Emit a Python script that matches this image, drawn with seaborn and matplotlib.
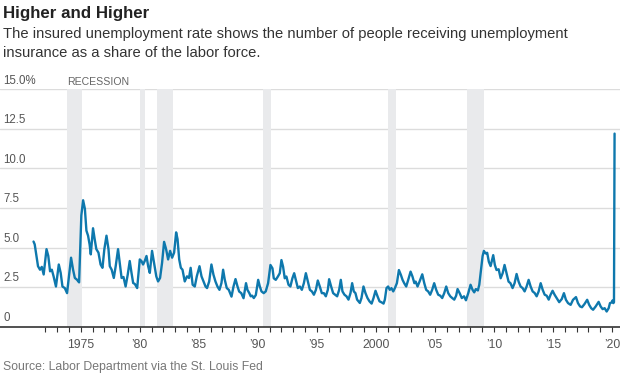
import numpy as np
import pandas as pd
import matplotlib
matplotlib.use('Agg')
import matplotlib.pyplot as plt
import matplotlib.transforms as mtransforms
import seaborn as sns

# insured unemployment rate (decimal year, percent)
dates = [
    1971.00, 1971.10, 1971.38, 1971.55, 1971.70, 1971.86, 1972.10, 1972.25, 1972.40, 1972.55,
    1972.70, 1972.90, 1973.14, 1973.30, 1973.45, 1973.65, 1973.84, 1974.00, 1974.18, 1974.35,
    1974.50, 1974.68, 1974.86, 1975.05, 1975.20, 1975.35, 1975.48, 1975.62, 1975.75, 1975.85,
    1976.04, 1976.18, 1976.32, 1976.50, 1976.68, 1976.84, 1977.00, 1977.18, 1977.35, 1977.46,
    1977.62, 1977.80, 1977.96, 1978.16, 1978.30, 1978.46, 1978.62, 1978.80, 1978.98, 1979.15,
    1979.30, 1979.44, 1979.58, 1979.78, 1980.00, 1980.14, 1980.28, 1980.42, 1980.57, 1980.71,
    1980.85, 1981.04, 1981.21, 1981.40, 1981.55, 1981.72, 1981.89, 1982.06, 1982.23, 1982.40,
    1982.57, 1982.74, 1982.91, 1983.08, 1983.20, 1983.34, 1983.48, 1983.62, 1983.81, 1984.00,
    1984.17, 1984.31, 1984.48, 1984.66, 1984.83, 1985.06, 1985.23, 1985.40, 1985.57, 1985.70,
    1985.88, 1986.07, 1986.24, 1986.41, 1986.58, 1986.75, 1986.92, 1987.06, 1987.20, 1987.37,
    1987.54, 1987.77, 1987.94, 1988.11, 1988.28, 1988.42, 1988.60, 1988.79, 1989.00, 1989.12,
    1989.28, 1989.40, 1989.52, 1989.66, 1989.83, 1990.03, 1990.17, 1990.31, 1990.50, 1990.67,
    1990.87, 1991.07, 1991.24, 1991.35, 1991.52, 1991.70, 1991.86, 1992.00, 1992.14, 1992.28,
    1992.42, 1992.60, 1992.76, 1992.93, 1993.08, 1993.22, 1993.39, 1993.56, 1993.73, 1993.90,
    1994.07, 1994.24, 1994.41, 1994.58, 1994.75, 1994.92, 1995.08, 1995.25, 1995.42, 1995.59,
    1995.76, 1995.93, 1996.04, 1996.21, 1996.38, 1996.55, 1996.72, 1996.89, 1997.03, 1997.17,
    1997.34, 1997.51, 1997.68, 1997.85, 1997.99, 1998.13, 1998.27, 1998.41, 1998.64, 1998.78,
    1998.95, 1999.12, 1999.29, 1999.46, 1999.64, 1999.80, 1999.97, 2000.14, 2000.31, 2000.48,
    2000.65, 2000.76, 2000.90, 2001.04, 2001.18, 2001.32, 2001.47, 2001.61, 2001.78, 2001.95,
    2002.12, 2002.26, 2002.40, 2002.57, 2002.74, 2002.94, 2003.10, 2003.26, 2003.37, 2003.53,
    2003.70, 2003.93, 2004.10, 2004.26, 2004.43, 2004.60, 2004.77, 2004.94, 2005.11, 2005.28,
    2005.45, 2005.62, 2005.79, 2005.96, 2006.13, 2006.30, 2006.47, 2006.64, 2006.80, 2006.92,
    2007.09, 2007.28, 2007.47, 2007.63, 2007.83, 2008.02, 2008.19, 2008.33, 2008.47, 2008.64,
    2008.76, 2008.90, 2009.04, 2009.15, 2009.29, 2009.43, 2009.57, 2009.72, 2009.84, 2009.94,
    2010.08, 2010.22, 2010.40, 2010.57, 2010.74, 2010.90, 2011.07, 2011.24, 2011.40, 2011.58,
    2011.75, 2011.92, 2012.09, 2012.26, 2012.43, 2012.60, 2012.77, 2012.94, 2013.11, 2013.28,
    2013.45, 2013.62, 2013.79, 2013.96, 2014.13, 2014.30, 2014.47, 2014.64, 2014.80, 2014.97,
    2015.14, 2015.31, 2015.53, 2015.75, 2015.93, 2016.10, 2016.28, 2016.50, 2016.70, 2016.95,
    2017.12, 2017.30, 2017.46, 2017.68, 2017.90, 2018.07, 2018.24, 2018.40, 2018.62, 2018.87,
    2019.04, 2019.21, 2019.38, 2019.55, 2019.72, 2019.83, 2019.97, 2020.05, 2020.12, 2020.17,
    2020.22,
]
rate = [
    5.38, 5.20, 3.82, 3.60, 3.78, 3.30, 4.90, 4.47, 3.50, 3.60,
    3.18, 2.54, 3.93, 3.40, 2.54, 2.44, 2.12, 3.18, 4.36, 3.60,
    3.08, 2.97, 2.80, 7.03, 7.99, 7.45, 6.07, 5.75, 5.20, 4.57,
    6.22, 5.53, 4.90, 4.68, 3.93, 3.72, 4.90, 5.75, 4.90, 3.82,
    3.60, 3.08, 3.82, 4.90, 4.04, 3.08, 3.14, 2.54, 3.29, 4.15,
    3.40, 2.76, 2.70, 2.44, 4.25, 4.15, 3.93, 4.15, 4.47, 3.82,
    3.40, 4.79, 4.04, 3.18, 2.86, 3.08, 4.04, 5.36, 4.90, 4.25,
    4.79, 4.36, 4.68, 5.96, 5.53, 4.25, 3.72, 3.60, 2.86, 3.18,
    3.08, 3.72, 2.65, 2.54, 3.18, 3.82, 3.18, 2.86, 2.54, 2.44,
    2.86, 3.93, 3.29, 2.86, 2.54, 2.33, 2.76, 3.60, 2.97, 2.44,
    2.33, 1.90, 2.54, 3.01, 2.54, 2.22, 2.12, 1.80, 2.75, 2.33,
    2.12, 1.92, 1.96, 1.81, 2.00, 2.96, 2.54, 2.23, 2.12, 2.23,
    2.75, 3.90, 3.69, 3.06, 2.96, 3.17, 3.38, 4.21, 3.79, 3.06,
    3.17, 2.65, 2.54, 3.06, 3.38, 2.96, 2.44, 2.54, 2.33, 2.75,
    3.38, 2.85, 2.33, 2.23, 2.02, 2.33, 2.92, 2.54, 2.12, 2.12,
    1.92, 2.33, 3.00, 2.54, 2.12, 2.02, 1.92, 2.33, 2.96, 2.23,
    2.02, 1.92, 1.71, 2.12, 2.75, 2.23, 2.12, 1.71, 1.50, 1.81,
    2.54, 2.12, 1.81, 1.60, 1.46, 1.81, 2.27, 1.92, 1.60, 1.54,
    1.46, 1.71, 2.44, 2.54, 2.33, 2.44, 2.23, 2.44, 2.75, 3.58,
    3.27, 2.96, 2.75, 2.54, 2.96, 3.48, 3.17, 2.75, 2.85, 2.54,
    2.85, 3.31, 2.75, 2.33, 2.23, 2.02, 2.33, 2.75, 2.33, 2.02,
    1.96, 1.81, 2.12, 2.54, 2.12, 1.92, 1.81, 1.71, 1.96, 2.38,
    2.13, 1.81, 1.92, 1.67, 2.13, 2.65, 2.33, 2.17, 2.38, 2.29,
    2.65, 3.58, 4.46, 4.79, 4.63, 4.67, 4.10, 3.83, 4.21, 4.52,
    3.90, 3.58, 3.63, 3.06, 3.38, 3.90, 3.38, 2.85, 2.75, 2.44,
    2.75, 3.33, 2.85, 2.54, 2.44, 2.23, 2.54, 2.96, 2.54, 2.23,
    2.13, 1.92, 2.23, 2.75, 2.33, 2.02, 1.96, 1.71, 2.02, 2.27,
    2.02, 1.81, 1.55, 1.75, 2.12, 1.70, 1.49, 1.38, 1.70, 1.87,
    1.49, 1.28, 1.23, 1.44, 1.70, 1.38, 1.17, 1.07, 1.28, 1.57,
    1.28, 1.11, 1.17, 0.96, 1.17, 1.49, 1.53, 1.66, 1.49, 1.55,
    12.20,
]

# recession periods as shaded in the reference
rec_start = [1973.85, 1980.05, 1981.45, 1990.40, 2001.03, 2007.73]
rec_end = [1975.14, 1980.47, 1982.80, 1991.10, 2001.68, 2009.14]

y_ticks = [0, 2.5, 5.0, 7.5, 10.0, 12.5, 15.0]
y_labels = ['0', '2.5', '5.0', '7.5', '10.0', '12.5', '15.0%']
x_ticks = [1975, 1980, 1985, 1990, 1995, 2000, 2005, 2010, 2015, 2020]
x_labels = ['1975', '\u201980', '\u201985', '\u201990', '\u201995', '2000',
            '\u201905', '\u201910', '\u201915', '\u201920']

df = pd.DataFrame({'date': dates, 'rate': rate})

sns.set_theme(style='white')
plt.rcParams['font.family'] = ['Liberation Sans', 'DejaVu Sans']

fig = plt.figure(figsize=(6.2, 3.75), dpi=100)
ax = fig.add_axes([0.0, 0.1288, 1.0, 0.6331])

for s, e in zip(rec_start, rec_end):
    ax.axvspan(s, e, color='#e9eaec', lw=0, zorder=1)

for v in y_ticks[1:]:
    ax.axhline(v, color='#dcdcdc', lw=1.0, zorder=0.5)

sns.lineplot(data=df, x='date', y='rate', ax=ax, color='#0e78ad', lw=1.7, zorder=3)

ax.set_xlim(1968.16, 2020.68)
ax.set_ylim(0, 15)
ax.set_xlabel('')
ax.set_ylabel('')

ax.set_xticks(x_ticks)
ax.set_xticklabels(x_labels)
ax.set_xticks([y for y in range(1972, 2021) if y % 5 != 0], minor=True)
ax.tick_params(axis='x', which='both', direction='out', length=3.5, width=0.8,
               color='#333333', labelsize=8.8, labelcolor='#555555', pad=5, bottom=True)
ax.set_yticks([])

for side in ['top', 'left', 'right']:
    ax.spines[side].set_visible(False)
ax.spines['bottom'].set_color('#333333')
ax.spines['bottom'].set_linewidth(1.2)

trans = mtransforms.blended_transform_factory(ax.transAxes, ax.transData)
for v, lab in zip(y_ticks, y_labels):
    ax.annotate(lab, xy=(0.005, v), xycoords=trans, xytext=(0, 2), textcoords='offset points',
                ha='left', va='bottom', fontsize=8.3, color='#555555')

ax.annotate('RECESSION', xy=(rec_start[0], 15), xycoords='data', xytext=(0, 2),
            textcoords='offset points', ha='left', va='bottom', fontsize=7.6, color='#666666')

fig.text(0.005, 1 - 6 / 375, 'Higher and Higher', ha='left', va='top',
         fontsize=12.2, fontweight='bold', color='#222222')
fig.text(0.005, 1 - 27 / 375,
         'The insured unemployment rate shows the number of people receiving unemployment\n'
         'insurance as a share of the labor force.',
         ha='left', va='top', fontsize=10.6, color='#333333', linespacing=1.45)
fig.text(0.005, 1 - 361 / 375, 'Source: Labor Department via the St. Louis Fed',
         ha='left', va='top', fontsize=8.8, color='#777777')

fig.savefig('out.png', dpi=100)
